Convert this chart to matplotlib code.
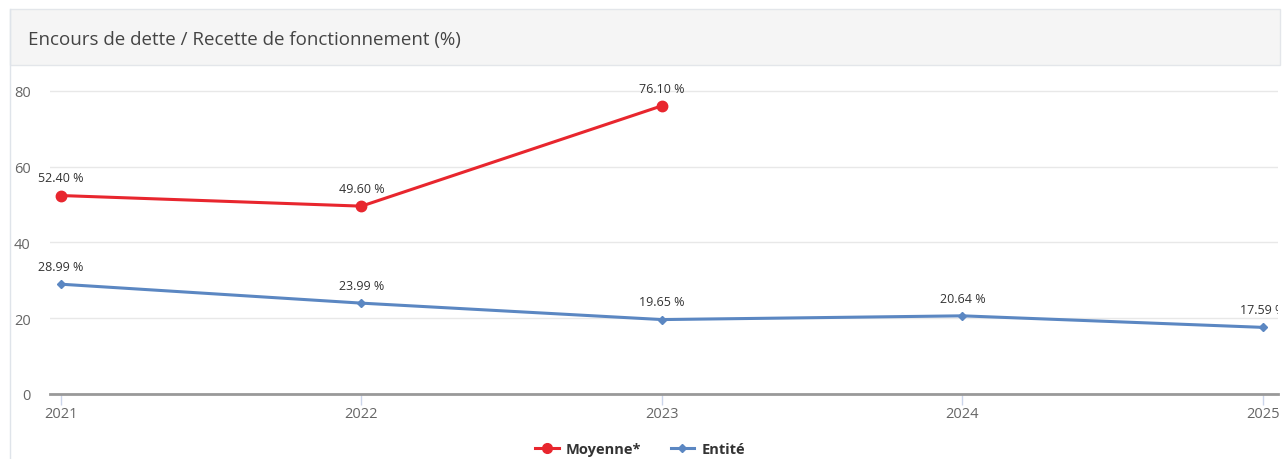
import matplotlib.pyplot as plt
from matplotlib.patches import Rectangle
from matplotlib.lines import Line2D

plt.rcParams['font.family'] = ['Open Sans', 'DejaVu Sans']

years = [2021, 2022, 2023, 2024, 2025]
moyenne_years = [2021, 2022, 2023]
moyenne = [52.40, 49.60, 76.10]
entite = [28.99, 23.99, 19.65, 20.64, 17.59]

red = '#e8262e'
blue = '#5b87c2'

W, H = 1284, 460
fig = plt.figure(figsize=(W / 100, H / 100), dpi=100)
fig.patch.set_facecolor('white')

# panel header
fig.patches.append(Rectangle((10 / W, 1 - 66 / H), 1270 / W, 56 / H, transform=fig.transFigure,
                             facecolor='#f5f5f5', edgecolor='#e3e6ea', linewidth=1, zorder=0))
fig.add_artist(Line2D([10 / W, 10 / W], [0, 1 - 10 / H], transform=fig.transFigure,
                      color='#dfe4ea', linewidth=1))
fig.text(28 / W, 1 - 40 / H, 'Encours de dette / Recette de fonctionnement (%)',
         fontsize=13.5, color='#444444', va='center', ha='left')

ax = fig.add_axes([50 / W, 1 - 395 / H, 1228 / W, 325 / H])
ax.set_xlim(2021 - 11 / 300.5, 2025 + 15 / 300.5)
ax.set_ylim(0, 80 + 22 / 3.7875)

ax.plot(moyenne_years, moyenne, color=red, linewidth=2.2, marker='o', markersize=7.5, zorder=3)
ax.plot(years, entite, color=blue, linewidth=2.2, marker='D', markersize=4.5, zorder=3)

for x, y in zip(moyenne_years, moyenne):
    ax.annotate(f'{y:.2f} %', (x, y), xytext=(0, 8), textcoords='offset points',
                ha='center', va='bottom', fontsize=9, color='#333333', annotation_clip=False)
for i, (x, y) in enumerate(zip(years, entite)):
    ax.annotate(f'{y:.2f} %', (x, y), xytext=(0, 8), textcoords='offset points',
                ha='center', va='bottom', fontsize=9, color='#333333',
                annotation_clip=False, clip_on=(i == len(years) - 1))

ax.set_yticks([0, 20, 40, 60, 80])
ax.set_xticks(years)
ax.set_xticklabels([str(y) for y in years])
ax.grid(axis='y', color='#e8e8e8', linewidth=1)
ax.set_axisbelow(True)
for s in ['top', 'right', 'left']:
    ax.spines[s].set_visible(False)
ax.spines['bottom'].set_color('#999999')
ax.spines['bottom'].set_linewidth(2)
ax.tick_params(axis='y', length=0, pad=14, labelsize=10.5, labelcolor='#666666')
ax.tick_params(axis='x', length=8, width=1, color='#ccd6eb', pad=1, labelsize=10.5, labelcolor='#666666')

handles = [Line2D([], [], color=red, linewidth=2.2, marker='o', markersize=7),
           Line2D([], [], color=blue, linewidth=2.2, marker='D', markersize=4)]
leg = fig.legend(handles, ['Moyenne*', 'Entité'], loc='center', bbox_to_anchor=(640 / W, 1 - 450 / H),
                 ncol=2, frameon=False, handlelength=1.6, handletextpad=0.5, columnspacing=2,
                 prop={'size': 10.5, 'weight': 'bold'})
for t in leg.get_texts():
    t.set_color('#333333')

fig.savefig('out.png', dpi=100)
